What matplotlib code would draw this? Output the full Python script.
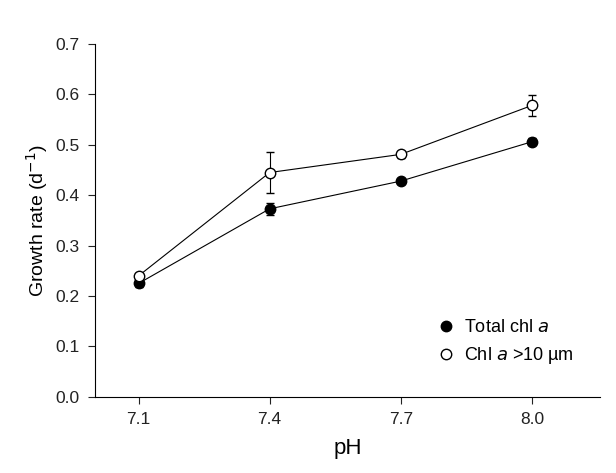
import matplotlib
matplotlib.use("Agg")
import matplotlib.pyplot as plt
from matplotlib.lines import Line2D

ph = [7.1, 7.4, 7.7, 8.0]
total = [0.225, 0.373, 0.428, 0.506]
total_err = [0.008, 0.012, 0.005, 0.007]
large = [0.240, 0.445, 0.481, 0.578]
large_err = [0.006, 0.040, 0.007, 0.020]

plt.rcParams['font.family'] = ['Liberation Sans', 'DejaVu Sans']
fig = plt.figure(figsize=(6.16, 4.73), dpi=100)
ax = fig.add_axes([0.154, 0.161, 0.82, 0.746])
ax.errorbar(ph, total, yerr=total_err, color='black', marker='o', ms=7.5, mfc='black',
            lw=0.8, elinewidth=0.8, capsize=3)
ax.errorbar(ph, large, yerr=large_err, color='black', marker='o', ms=7.5, mfc='white',
            lw=0.8, elinewidth=0.8, capsize=3)
ax.set_xlim(7.0, 8.156)
ax.set_ylim(0, 0.7)
ax.set_xticks(ph)
ax.set_xticklabels(['7.1', '7.4', '7.7', '8.0'])
ax.set_yticks([0, 0.1, 0.2, 0.3, 0.4, 0.5, 0.6, 0.7])
ax.set_yticklabels(['0.0', '0.1', '0.2', '0.3', '0.4', '0.5', '0.6', '0.7'])
for s in ['top', 'right']:
    ax.spines[s].set_visible(False)
ax.tick_params(labelsize=12.5, direction='out', length=5, colors='#222222', pad=6)
ax.set_xlabel('pH', fontsize=16, labelpad=8)
ax.set_ylabel('Growth rate (d$^{-1}$)', fontsize=14)
handles = [Line2D([], [], ls='none', marker='o', ms=7.5, mfc='black', mec='black'),
           Line2D([], [], ls='none', marker='o', ms=7.5, mfc='white', mec='black')]
ax.legend(handles, ['Total chl $\\it{a}$', 'Chl $\\it{a}$ >10 µm'], loc='lower right',
          frameon=False, fontsize=13, handletextpad=0.4, handlelength=1.2,
          bbox_to_anchor=(0.98, 0.04))
fig.savefig('out.png', dpi=100)
